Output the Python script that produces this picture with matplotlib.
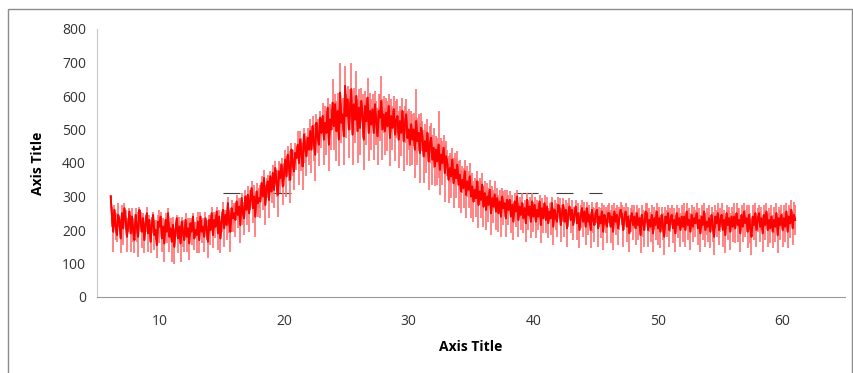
import numpy as np
import matplotlib.pyplot as plt
from matplotlib.patches import Rectangle

# x sampled every 0.1 from 6.1 to 61.0
x = np.round(np.arange(6.1, 61.001, 0.1), 1)

y = [300, 240, 195, 260, 210, 185, 245, 230, 175, 250,
     205, 265, 230, 180, 215, 255, 190, 240, 200, 170,
     245, 210, 180, 260, 225, 195, 235, 170, 220, 250,
     190, 230, 165, 215, 245, 185, 200, 155, 225, 210,
     240, 175, 210, 160, 230, 195, 250, 180, 205, 165,
     215, 150, 200, 235, 175, 210, 160, 225, 190, 170,
     230, 180, 205, 160, 220, 195, 240, 175, 200, 185,
     225, 170, 240, 195, 210, 180, 235, 200, 165, 230,
     200, 250, 185, 230, 210, 255, 190, 240, 175, 225,
     260, 205, 245, 215, 280, 225, 195, 265, 235, 250,
     230, 285, 245, 270, 215, 295, 250, 235, 300, 260,
     305, 250, 290, 325, 265, 300, 240, 315, 280, 295,
     285, 340, 300, 355, 275, 325, 345, 290, 360, 315,
     370, 320, 385, 340, 305, 375, 355, 395, 330, 365,
     410, 360, 425, 390, 350, 440, 400, 375, 430, 415,
     455, 400, 470, 425, 390, 485, 445, 420, 475, 440,
     495, 440, 510, 460, 425, 520, 480, 455, 535, 490,
     540, 470, 520, 490, 565, 455, 530, 500, 580, 510,
     575, 495, 555, 470, 610, 520, 545, 480, 630, 540,
     590, 500, 560, 620, 485, 575, 530, 600, 495, 565,
     505, 585, 540, 470, 570, 525, 595, 490, 555, 515,
     560, 490, 575, 520, 480, 555, 535, 585, 500, 545,
     495, 550, 510, 570, 475, 540, 505, 560, 485, 530,
     540, 470, 525, 490, 555, 465, 515, 545, 475, 500,
     455, 515, 470, 500, 440, 525, 465, 490, 430, 505,
     480, 420, 465, 435, 490, 405, 455, 475, 410, 445,
     390, 440, 405, 455, 380, 425, 400, 445, 370, 420,
     400, 350, 385, 360, 410, 340, 380, 355, 395, 335,
     365, 315, 350, 325, 375, 305, 345, 320, 360, 300,
     330, 285, 320, 295, 345, 275, 315, 290, 335, 270,
     310, 260, 300, 275, 320, 250, 295, 270, 305, 255,
     295, 250, 285, 240, 300, 265, 280, 235, 290, 260,
     290, 240, 275, 225, 285, 255, 300, 230, 270, 245,
     280, 235, 265, 220, 290, 245, 270, 225, 285, 240,
     275, 225, 260, 240, 285, 215, 265, 235, 280, 230,
     270, 220, 255, 235, 280, 210, 260, 240, 225, 275,
     265, 215, 250, 275, 225, 260, 205, 245, 270, 230,
     260, 215, 245, 270, 220, 250, 200, 240, 265, 225,
     255, 210, 265, 225, 245, 200, 260, 230, 215, 250,
     260, 205, 240, 220, 255, 195, 245, 230, 210, 250,
     250, 210, 240, 195, 255, 225, 245, 205, 235, 260,
     245, 200, 235, 255, 210, 240, 190, 230, 250, 215,
     240, 205, 250, 215, 235, 185, 245, 220, 200, 255,
     250, 200, 230, 210, 245, 190, 235, 215, 255, 205,
     235, 195, 245, 210, 180, 240, 220, 250, 200, 230,
     245, 205, 230, 190, 250, 215, 235, 200, 240, 210,
     240, 200, 255, 215, 230, 195, 245, 210, 235, 220,
     250, 205, 230, 190, 240, 215, 255, 200, 225, 210,
     235, 195, 245, 210, 180, 240, 220, 250, 200, 230,
     245, 200, 230, 185, 250, 215, 235, 195, 240, 210,
     240, 205, 250, 215, 230, 190, 245, 210, 255, 220,
     235, 195, 245, 205, 180, 240, 215, 250, 200, 230,
     250, 210, 235, 190, 245, 215, 255, 200, 230, 205,
     240, 195, 230, 210, 250, 185, 235, 215, 245, 200,
     235, 210, 255, 195, 240, 220, 260, 205, 245, 230]

err = [5, 30, 60, 15, 40, 20, 35, 10, 45, 25,
       50, 15, 30, 45, 20, 10, 55, 25, 35, 40,
       20, 45, 60, 10, 30, 50, 15, 40, 25, 20,
       55, 15, 35, 25, 10, 45, 30, 40, 20, 50,
       15, 40, 25, 55, 20, 35, 15, 45, 30, 60,
       25, 50, 20, 10, 45, 30, 55, 15, 40, 35,
       20, 45, 30, 50, 15, 40, 10, 35, 25, 55,
       30, 40, 15, 35, 25, 45, 20, 30, 50, 15,
       45, 20, 40, 25, 35, 15, 50, 20, 45, 30,
       25, 55, 15, 45, 20, 35, 60, 25, 40, 30,
       50, 20, 40, 25, 55, 15, 35, 50, 20, 45,
       25, 55, 30, 20, 45, 35, 60, 25, 40, 30,
       50, 20, 40, 25, 60, 30, 20, 55, 15, 35,
       25, 55, 20, 40, 65, 30, 45, 20, 55, 35,
       30, 60, 25, 45, 70, 20, 40, 55, 30, 35,
       40, 65, 25, 50, 70, 20, 45, 60, 30, 45,
       35, 70, 30, 55, 80, 25, 50, 65, 20, 45,
       40, 75, 50, 65, 30, 80, 45, 60, 70, 70,
       30, 90, 55, 80, 90, 60, 50, 85, 60, 65,
       40, 85, 60, 80, 90, 50, 70, 75, 95, 55,
       80, 40, 65, 90, 45, 70, 60, 85, 55, 75,
       45, 80, 40, 65, 85, 50, 70, 75, 90, 55,
       70, 45, 75, 35, 85, 50, 65, 40, 80, 55,
       50, 85, 45, 70, 40, 90, 55, 45, 80, 60,
       65, 40, 75, 50, 85, 95, 70, 55, 90, 45,
       45, 80, 50, 65, 40, 85, 55, 45, 75, 60,
       60, 40, 70, 100, 75, 50, 65, 40, 85, 45,
       40, 70, 45, 65, 35, 75, 50, 60, 40, 70,
       45, 65, 40, 60, 35, 70, 45, 55, 40, 65,
       40, 60, 35, 55, 30, 70, 40, 55, 35, 60,
       35, 60, 40, 50, 30, 65, 35, 50, 40, 55,
       30, 55, 35, 60, 25, 50, 40, 55, 30, 45,
       25, 50, 30, 55, 25, 45, 20, 50, 30, 45,
       30, 45, 25, 55, 20, 45, 30, 50, 25, 45,
       25, 50, 30, 40, 20, 55, 30, 45, 25, 40,
       30, 45, 25, 50, 20, 55, 30, 40, 45, 25,
       30, 50, 25, 20, 45, 30, 55, 35, 25, 40,
       30, 45, 25, 20, 50, 30, 55, 35, 25, 45,
       30, 55, 20, 40, 30, 55, 25, 40, 50, 30,
       25, 55, 30, 45, 25, 55, 30, 40, 50, 25,
       30, 50, 35, 55, 25, 40, 30, 50, 35, 25,
       30, 50, 35, 25, 45, 30, 55, 35, 25, 45,
       35, 50, 25, 45, 30, 55, 30, 40, 50, 25,
       30, 50, 35, 45, 30, 55, 35, 45, 25, 50,
       35, 50, 25, 40, 55, 30, 40, 25, 50, 35,
       30, 45, 35, 55, 25, 40, 30, 50, 35, 45,
       40, 50, 25, 45, 35, 55, 30, 45, 35, 40,
       30, 50, 35, 55, 35, 45, 25, 50, 40, 45,
       40, 50, 25, 45, 55, 35, 40, 30, 45, 35,
       35, 50, 30, 55, 25, 45, 35, 55, 30, 45,
       40, 45, 30, 50, 35, 55, 30, 45, 25, 40,
       40, 50, 30, 45, 55, 35, 45, 30, 50, 35,
       25, 45, 35, 55, 30, 45, 25, 50, 35, 45,
       35, 50, 40, 45, 30, 55, 35, 45, 30, 50,
       40, 45, 25, 50, 35, 45, 30, 50, 40, 45]

# a few dark horizontal bars seen in the picture
bx = [15.8, 19.8, 26.5, 28.5, 36.0, 39.5, 42.5, 45.0]
by = [310, 310, 555, 555, 310, 310, 310, 310]
bxe = [0.7, 0.8, 0.5, 0.6, 0.9, 0.9, 0.7, 0.5]

plt.rcParams['font.family'] = ['Open Sans', 'DejaVu Sans']

fig = plt.figure(figsize=(8.54, 3.73), dpi=100)
fig.patches.append(Rectangle((8 / 854, -0.02), 844 / 854, 1.02 - 9 / 373,
                             transform=fig.transFigure, fill=False,
                             edgecolor='#8c8c8c', linewidth=1))
ax = fig.add_axes([97 / 854, 1 - 297 / 373, 748 / 854, 268 / 373])

ax.errorbar(bx, by, xerr=bxe, fmt='none', ecolor='#404040', elinewidth=0.8)
ax.errorbar(x, y, yerr=err, color='#ff0000', lw=1.3,
            ecolor='#ff7070', elinewidth=1.2)
ax.plot(x, y, color='#ff0000', lw=1.3)

ax.set_xlim(5, 65)
ax.set_ylim(0, 800)
ax.set_xticks([10, 20, 30, 40, 50, 60])
ax.set_yticks(range(0, 801, 100))
ax.tick_params(length=0, labelsize=10, colors='#333333', pad=8)
ax.tick_params(axis='x', pad=12)

for s in ['top', 'right']:
    ax.spines[s].set_visible(False)
ax.spines['left'].set_color('#c8c8c8')
ax.spines['bottom'].set_color('#999999')

ax.set_xlabel('Axis Title', fontweight='bold', fontsize=10, labelpad=8)
ax.set_ylabel('Axis Title', fontweight='bold', fontsize=10, labelpad=12)

plt.savefig('out.png', dpi=100)
